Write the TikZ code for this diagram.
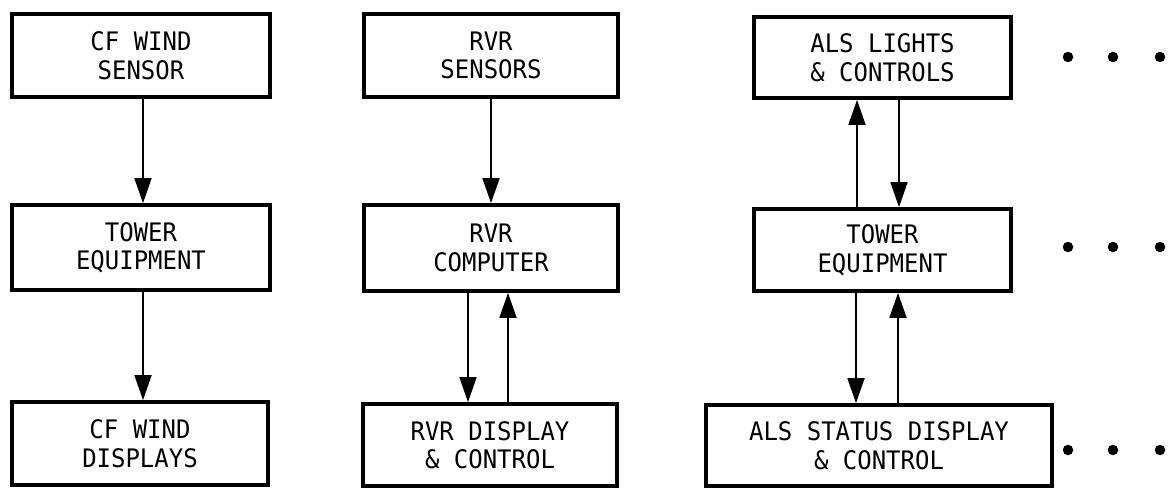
\documentclass[tikz,border=0pt]{standalone}
\usepackage{fontspec}
\newfontfamily\boxfont[FakeStretch=0.94]{DejaVu Sans Mono}
\usetikzlibrary{arrows.meta}
\tikzset{
  blk/.style={draw, line width=3.8pt, rectangle, align=center, inner sep=0pt,
    font=\boxfont\fontsize{25.5}{28.5}\selectfont},
  arr/.style={line width=1.8pt, -{Triangle[length=25pt,width=17pt]}},
  dotmark/.style={fill, circle, minimum size=10.5pt, inner sep=0pt}
}
\begin{document}
\begin{tikzpicture}[x=1pt,y=-1pt]
\useasboundingbox (0,0) rectangle (1168,497);
% column 1
\node[blk, minimum width=258pt, minimum height=83pt] (c1t) at (141,55.5) {CF WIND\\SENSOR};
\node[blk, minimum width=258pt, minimum height=85pt] (c1m) at (141,247.5) {TOWER\\EQUIPMENT};
\node[blk, minimum width=256pt, minimum height=83pt] (c1b) at (140,443.5) {CF WIND\\DISPLAYS};
% column 2
\node[blk, minimum width=254pt, minimum height=83pt] (c2t) at (491,55.5) {RVR\\SENSORS};
\node[blk, minimum width=254pt, minimum height=86pt] (c2m) at (491,248) {RVR\\COMPUTER};
\node[blk, minimum width=254pt, minimum height=82pt] (c2b) at (490,445) {RVR DISPLAY\\\& CONTROL};
% column 3
\node[blk, minimum width=257pt, minimum height=81pt] (c3t) at (882.5,57.5) {ALS LIGHTS\\\& CONTROLS};
\node[blk, minimum width=257pt, minimum height=82pt] (c3m) at (882.5,250) {TOWER\\EQUIPMENT};
\node[blk, minimum width=346pt, minimum height=81pt] (c3b) at (879,445.5) {ALS STATUS DISPLAY\\\& CONTROL};
% connectors column 1
\draw[arr] ([xshift=2pt]c1t.south) -- ([xshift=2pt]c1t.south |- c1m.north);
\draw[arr] ([xshift=2pt]c1m.south) -- ([xshift=2pt]c1m.south |- c1b.north);
% column 2
\draw[arr] (c2t.south) -- (c2t.south |- c2m.north);
\draw[arr] ([xshift=-23pt]c2m.south) -- ([xshift=-23pt]c2m.south |- c2b.north);
\draw[arr] ([xshift=18pt]c2b.north) -- ([xshift=18pt]c2b.north |- c2m.south);
% column 3
\draw[arr] ([xshift=-25.5pt]c3m.north) -- ([xshift=-25.5pt]c3m.north |- c3t.south);
\draw[arr] ([xshift=16.5pt]c3t.south) -- ([xshift=16.5pt]c3t.south |- c3m.north);
\draw[arr] ([xshift=-26.5pt]c3m.south) -- ([xshift=-26.5pt]c3m.south |- c3b.north);
\draw[arr] ([xshift=15.5pt]c3m.south |- c3b.north) -- ([xshift=15.5pt]c3m.south);
% ellipsis dots
\foreach \y/\r in {57/a,247/b,450/c}{
  \node[dotmark] (d1\r) at (1068,\y) {};
  \node[dotmark] (d2\r) at (1113,\y) {};
  \node[dotmark] (d3\r) at (1160,\y) {};
}
\end{tikzpicture}
\end{document}
